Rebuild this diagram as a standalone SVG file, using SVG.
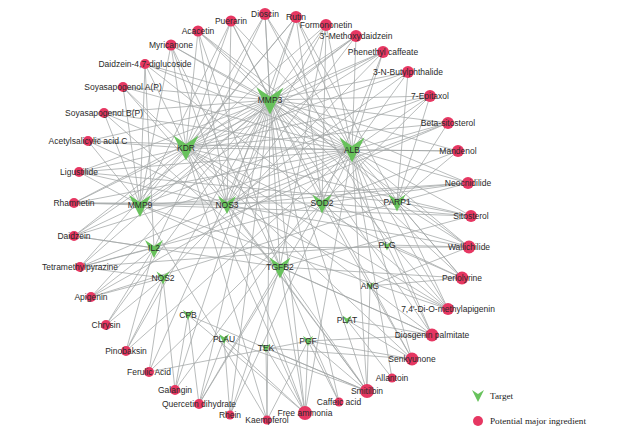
<svg xmlns="http://www.w3.org/2000/svg" xmlns:xlink="http://www.w3.org/1999/xlink" width="640" height="433" viewBox="0 0 640 433">
<style>
.e{stroke:#a2a6a6;stroke-width:0.75;fill:none}
.ing circle{fill:#e63762}
.tgt use{fill:#68c25c}
text{font-family:"Liberation Sans",Arial,sans-serif;font-size:8.5px;fill:#2a2a2a;text-anchor:middle}
.leg{font-family:"Liberation Serif","Times New Roman",serif;font-size:9.2px;text-anchor:start;fill:#222}
</style>
<defs>
<path id="vee" d="M-1,-1 L0,-0.33 L1,-1 L0,1 Z"/>
</defs>
<rect width="640" height="433" fill="#fff"/>
<g id="edges">
<line class="e" x1="198" y1="31" x2="270" y2="100"/><line class="e" x1="198" y1="31" x2="352" y2="150"/><line class="e" x1="198" y1="31" x2="186" y2="148"/><line class="e" x1="198" y1="31" x2="227" y2="205"/><line class="e" x1="198" y1="31" x2="280" y2="267"/><line class="e" x1="198" y1="31" x2="397" y2="202"/>
<line class="e" x1="231" y1="21" x2="270" y2="100"/><line class="e" x1="231" y1="21" x2="352" y2="150"/><line class="e" x1="231" y1="21" x2="186" y2="148"/><line class="e" x1="231" y1="21" x2="227" y2="205"/><line class="e" x1="231" y1="21" x2="322" y2="203"/><line class="e" x1="231" y1="21" x2="140" y2="205"/>
<line class="e" x1="265" y1="14" x2="270" y2="100"/><line class="e" x1="265" y1="14" x2="352" y2="150"/><line class="e" x1="265" y1="14" x2="186" y2="148"/><line class="e" x1="265" y1="14" x2="280" y2="267"/><line class="e" x1="265" y1="14" x2="387" y2="245"/><line class="e" x1="265" y1="14" x2="154" y2="248"/>
<line class="e" x1="296" y1="17" x2="270" y2="100"/><line class="e" x1="296" y1="17" x2="352" y2="150"/><line class="e" x1="296" y1="17" x2="186" y2="148"/><line class="e" x1="296" y1="17" x2="322" y2="203"/><line class="e" x1="296" y1="17" x2="227" y2="205"/><line class="e" x1="296" y1="17" x2="140" y2="205"/><line class="e" x1="296" y1="17" x2="397" y2="202"/>
<line class="e" x1="326" y1="25" x2="270" y2="100"/><line class="e" x1="326" y1="25" x2="352" y2="150"/><line class="e" x1="326" y1="25" x2="186" y2="148"/><line class="e" x1="326" y1="25" x2="227" y2="205"/><line class="e" x1="326" y1="25" x2="322" y2="203"/><line class="e" x1="326" y1="25" x2="280" y2="267"/>
<line class="e" x1="356" y1="36" x2="270" y2="100"/><line class="e" x1="356" y1="36" x2="352" y2="150"/><line class="e" x1="356" y1="36" x2="186" y2="148"/><line class="e" x1="356" y1="36" x2="227" y2="205"/><line class="e" x1="356" y1="36" x2="140" y2="205"/>
<line class="e" x1="383" y1="52" x2="270" y2="100"/><line class="e" x1="383" y1="52" x2="352" y2="150"/><line class="e" x1="383" y1="52" x2="186" y2="148"/><line class="e" x1="383" y1="52" x2="322" y2="203"/><line class="e" x1="383" y1="52" x2="140" y2="205"/><line class="e" x1="383" y1="52" x2="163" y2="278"/>
<line class="e" x1="408" y1="72" x2="270" y2="100"/><line class="e" x1="408" y1="72" x2="352" y2="150"/><line class="e" x1="408" y1="72" x2="397" y2="202"/><line class="e" x1="408" y1="72" x2="227" y2="205"/><line class="e" x1="408" y1="72" x2="186" y2="148"/>
<line class="e" x1="430" y1="96" x2="270" y2="100"/><line class="e" x1="430" y1="96" x2="352" y2="150"/><line class="e" x1="430" y1="96" x2="186" y2="148"/><line class="e" x1="430" y1="96" x2="397" y2="202"/><line class="e" x1="430" y1="96" x2="322" y2="203"/><line class="e" x1="430" y1="96" x2="140" y2="205"/>
<line class="e" x1="448" y1="123" x2="352" y2="150"/><line class="e" x1="448" y1="123" x2="270" y2="100"/><line class="e" x1="448" y1="123" x2="186" y2="148"/><line class="e" x1="448" y1="123" x2="397" y2="202"/><line class="e" x1="448" y1="123" x2="227" y2="205"/><line class="e" x1="448" y1="123" x2="154" y2="248"/>
<line class="e" x1="458" y1="151" x2="352" y2="150"/><line class="e" x1="458" y1="151" x2="270" y2="100"/><line class="e" x1="458" y1="151" x2="397" y2="202"/><line class="e" x1="458" y1="151" x2="322" y2="203"/><line class="e" x1="458" y1="151" x2="186" y2="148"/>
<line class="e" x1="468" y1="183" x2="352" y2="150"/><line class="e" x1="468" y1="183" x2="397" y2="202"/><line class="e" x1="468" y1="183" x2="270" y2="100"/><line class="e" x1="468" y1="183" x2="227" y2="205"/><line class="e" x1="468" y1="183" x2="140" y2="205"/><line class="e" x1="468" y1="183" x2="322" y2="203"/>
<line class="e" x1="471" y1="216" x2="397" y2="202"/><line class="e" x1="471" y1="216" x2="352" y2="150"/><line class="e" x1="471" y1="216" x2="186" y2="148"/><line class="e" x1="471" y1="216" x2="322" y2="203"/><line class="e" x1="471" y1="216" x2="140" y2="205"/><line class="e" x1="471" y1="216" x2="280" y2="267"/>
<line class="e" x1="469" y1="247" x2="397" y2="202"/><line class="e" x1="469" y1="247" x2="352" y2="150"/><line class="e" x1="469" y1="247" x2="270" y2="100"/><line class="e" x1="469" y1="247" x2="322" y2="203"/><line class="e" x1="469" y1="247" x2="227" y2="205"/><line class="e" x1="469" y1="247" x2="387" y2="245"/><line class="e" x1="469" y1="247" x2="154" y2="248"/><line class="e" x1="469" y1="247" x2="370" y2="286"/>
<line class="e" x1="462" y1="278" x2="397" y2="202"/><line class="e" x1="462" y1="278" x2="352" y2="150"/><line class="e" x1="462" y1="278" x2="186" y2="148"/><line class="e" x1="462" y1="278" x2="270" y2="100"/><line class="e" x1="462" y1="278" x2="387" y2="245"/><line class="e" x1="462" y1="278" x2="280" y2="267"/><line class="e" x1="462" y1="278" x2="370" y2="286"/>
<line class="e" x1="448" y1="309" x2="352" y2="150"/><line class="e" x1="448" y1="309" x2="270" y2="100"/><line class="e" x1="448" y1="309" x2="186" y2="148"/><line class="e" x1="448" y1="309" x2="322" y2="203"/><line class="e" x1="448" y1="309" x2="227" y2="205"/><line class="e" x1="448" y1="309" x2="397" y2="202"/><line class="e" x1="448" y1="309" x2="140" y2="205"/>
<line class="e" x1="432" y1="335" x2="352" y2="150"/><line class="e" x1="432" y1="335" x2="270" y2="100"/><line class="e" x1="432" y1="335" x2="186" y2="148"/><line class="e" x1="432" y1="335" x2="387" y2="245"/><line class="e" x1="432" y1="335" x2="280" y2="267"/><line class="e" x1="432" y1="335" x2="347" y2="320"/><line class="e" x1="432" y1="335" x2="308" y2="341"/><line class="e" x1="432" y1="335" x2="140" y2="205"/>
<line class="e" x1="412" y1="359" x2="352" y2="150"/><line class="e" x1="412" y1="359" x2="270" y2="100"/><line class="e" x1="412" y1="359" x2="186" y2="148"/><line class="e" x1="412" y1="359" x2="308" y2="341"/><line class="e" x1="412" y1="359" x2="266" y2="348"/><line class="e" x1="412" y1="359" x2="347" y2="320"/><line class="e" x1="412" y1="359" x2="322" y2="203"/>
<line class="e" x1="392" y1="378" x2="347" y2="320"/><line class="e" x1="392" y1="378" x2="352" y2="150"/>
<line class="e" x1="367" y1="391" x2="352" y2="150"/><line class="e" x1="367" y1="391" x2="270" y2="100"/><line class="e" x1="367" y1="391" x2="186" y2="148"/><line class="e" x1="367" y1="391" x2="280" y2="267"/><line class="e" x1="367" y1="391" x2="224" y2="339"/><line class="e" x1="367" y1="391" x2="266" y2="348"/><line class="e" x1="367" y1="391" x2="308" y2="341"/><line class="e" x1="367" y1="391" x2="188" y2="315"/><line class="e" x1="367" y1="391" x2="227" y2="205"/><line class="e" x1="367" y1="391" x2="370" y2="286"/>
<line class="e" x1="339" y1="402" x2="308" y2="341"/><line class="e" x1="339" y1="402" x2="270" y2="100"/><line class="e" x1="339" y1="402" x2="280" y2="267"/>
<line class="e" x1="305" y1="413" x2="308" y2="341"/><line class="e" x1="305" y1="413" x2="266" y2="348"/><line class="e" x1="305" y1="413" x2="224" y2="339"/><line class="e" x1="305" y1="413" x2="280" y2="267"/><line class="e" x1="305" y1="413" x2="188" y2="315"/><line class="e" x1="305" y1="413" x2="186" y2="148"/><line class="e" x1="305" y1="413" x2="270" y2="100"/><line class="e" x1="305" y1="413" x2="352" y2="150"/><line class="e" x1="305" y1="413" x2="227" y2="205"/>
<line class="e" x1="267" y1="420" x2="266" y2="348"/><line class="e" x1="267" y1="420" x2="308" y2="341"/><line class="e" x1="267" y1="420" x2="270" y2="100"/><line class="e" x1="267" y1="420" x2="186" y2="148"/><line class="e" x1="267" y1="420" x2="140" y2="205"/>
<line class="e" x1="230" y1="415" x2="224" y2="339"/><line class="e" x1="230" y1="415" x2="270" y2="100"/><line class="e" x1="230" y1="415" x2="352" y2="150"/><line class="e" x1="230" y1="415" x2="280" y2="267"/>
<line class="e" x1="199" y1="404" x2="188" y2="315"/><line class="e" x1="199" y1="404" x2="224" y2="339"/><line class="e" x1="199" y1="404" x2="270" y2="100"/><line class="e" x1="199" y1="404" x2="322" y2="203"/><line class="e" x1="199" y1="404" x2="280" y2="267"/>
<line class="e" x1="175" y1="390" x2="188" y2="315"/><line class="e" x1="175" y1="390" x2="163" y2="278"/><line class="e" x1="175" y1="390" x2="270" y2="100"/><line class="e" x1="175" y1="390" x2="352" y2="150"/>
<line class="e" x1="149" y1="372" x2="163" y2="278"/><line class="e" x1="149" y1="372" x2="270" y2="100"/><line class="e" x1="149" y1="372" x2="308" y2="341"/><line class="e" x1="149" y1="372" x2="322" y2="203"/>
<line class="e" x1="126" y1="351" x2="163" y2="278"/><line class="e" x1="126" y1="351" x2="154" y2="248"/><line class="e" x1="126" y1="351" x2="270" y2="100"/><line class="e" x1="126" y1="351" x2="352" y2="150"/>
<line class="e" x1="106" y1="325" x2="163" y2="278"/><line class="e" x1="106" y1="325" x2="154" y2="248"/><line class="e" x1="106" y1="325" x2="270" y2="100"/>
<line class="e" x1="91" y1="297" x2="163" y2="278"/><line class="e" x1="91" y1="297" x2="154" y2="248"/><line class="e" x1="91" y1="297" x2="270" y2="100"/><line class="e" x1="91" y1="297" x2="352" y2="150"/><line class="e" x1="91" y1="297" x2="397" y2="202"/>
<line class="e" x1="80" y1="267" x2="154" y2="248"/><line class="e" x1="80" y1="267" x2="163" y2="278"/><line class="e" x1="80" y1="267" x2="270" y2="100"/><line class="e" x1="80" y1="267" x2="352" y2="150"/><line class="e" x1="80" y1="267" x2="186" y2="148"/><line class="e" x1="80" y1="267" x2="322" y2="203"/><line class="e" x1="80" y1="267" x2="387" y2="245"/>
<line class="e" x1="74" y1="236" x2="154" y2="248"/><line class="e" x1="74" y1="236" x2="140" y2="205"/><line class="e" x1="74" y1="236" x2="270" y2="100"/><line class="e" x1="74" y1="236" x2="352" y2="150"/><line class="e" x1="74" y1="236" x2="186" y2="148"/><line class="e" x1="74" y1="236" x2="280" y2="267"/>
<line class="e" x1="74" y1="203" x2="140" y2="205"/><line class="e" x1="74" y1="203" x2="186" y2="148"/><line class="e" x1="74" y1="203" x2="227" y2="205"/><line class="e" x1="74" y1="203" x2="270" y2="100"/><line class="e" x1="74" y1="203" x2="352" y2="150"/><line class="e" x1="74" y1="203" x2="322" y2="203"/>
<line class="e" x1="79" y1="172" x2="140" y2="205"/><line class="e" x1="79" y1="172" x2="186" y2="148"/><line class="e" x1="79" y1="172" x2="270" y2="100"/><line class="e" x1="79" y1="172" x2="352" y2="150"/><line class="e" x1="79" y1="172" x2="227" y2="205"/><line class="e" x1="79" y1="172" x2="397" y2="202"/>
<line class="e" x1="88" y1="141" x2="186" y2="148"/><line class="e" x1="88" y1="141" x2="140" y2="205"/><line class="e" x1="88" y1="141" x2="270" y2="100"/><line class="e" x1="88" y1="141" x2="352" y2="150"/><line class="e" x1="88" y1="141" x2="227" y2="205"/>
<line class="e" x1="104" y1="113" x2="186" y2="148"/><line class="e" x1="104" y1="113" x2="270" y2="100"/><line class="e" x1="104" y1="113" x2="352" y2="150"/><line class="e" x1="104" y1="113" x2="140" y2="205"/><line class="e" x1="104" y1="113" x2="280" y2="267"/>
<line class="e" x1="123" y1="87" x2="186" y2="148"/><line class="e" x1="123" y1="87" x2="270" y2="100"/><line class="e" x1="123" y1="87" x2="352" y2="150"/><line class="e" x1="123" y1="87" x2="140" y2="205"/><line class="e" x1="123" y1="87" x2="227" y2="205"/>
<line class="e" x1="145" y1="64" x2="186" y2="148"/><line class="e" x1="145" y1="64" x2="270" y2="100"/><line class="e" x1="145" y1="64" x2="352" y2="150"/><line class="e" x1="145" y1="64" x2="140" y2="205"/><line class="e" x1="145" y1="64" x2="154" y2="248"/><line class="e" x1="145" y1="64" x2="322" y2="203"/>
<line class="e" x1="171" y1="45" x2="186" y2="148"/><line class="e" x1="171" y1="45" x2="270" y2="100"/><line class="e" x1="171" y1="45" x2="352" y2="150"/><line class="e" x1="171" y1="45" x2="227" y2="205"/><line class="e" x1="171" y1="45" x2="280" y2="267"/><line class="e" x1="171" y1="45" x2="140" y2="205"/>
</g>
<g id="targets" class="tgt">
<g id="t-MMP3"><use xlink:href="#vee" href="#vee" transform="translate(270,101) scale(13.5)"/><text x="270" y="103">MMP3</text></g>
<g id="t-ALB"><use xlink:href="#vee" href="#vee" transform="translate(352,150) scale(12.5)"/><text x="352" y="153">ALB</text></g>
<g id="t-KDR"><use xlink:href="#vee" href="#vee" transform="translate(186,148) scale(12.5)"/><text x="186" y="151">KDR</text></g>
<g id="t-MMP9"><use xlink:href="#vee" href="#vee" transform="translate(140,206) scale(11)"/><text x="140" y="208">MMP9</text></g>
<g id="t-NOS3"><use xlink:href="#vee" href="#vee" transform="translate(227,205) scale(9)"/><text x="227" y="208">NOS3</text></g>
<g id="t-SOD2"><use xlink:href="#vee" href="#vee" transform="translate(322,204) scale(9.5)"/><text x="322" y="206">SOD2</text></g>
<g id="t-PARP1"><use xlink:href="#vee" href="#vee" transform="translate(397,203) scale(8.5)"/><text x="397" y="205">PARP1</text></g>
<g id="t-IL2"><use xlink:href="#vee" href="#vee" transform="translate(154,249) scale(9)"/><text x="154" y="251">IL2</text></g>
<g id="t-NOS2"><use xlink:href="#vee" href="#vee" transform="translate(163,278) scale(6.5)"/><text x="163" y="281">NOS2</text></g>
<g id="t-TGFB2"><use xlink:href="#vee" href="#vee" transform="translate(280,268) scale(10.5)"/><text x="280" y="270">TGFB2</text></g>
<g id="t-PLG"><use xlink:href="#vee" href="#vee" transform="translate(387,246) scale(4.5)"/><text x="387" y="248">PLG</text></g>
<g id="t-ANG"><use xlink:href="#vee" href="#vee" transform="translate(370,286) scale(4)"/><text x="370" y="289">ANG</text></g>
<g id="t-PLAT"><use xlink:href="#vee" href="#vee" transform="translate(347,320) scale(4.5)"/><text x="347" y="323">PLAT</text></g>
<g id="t-CPB"><use xlink:href="#vee" href="#vee" transform="translate(188,315) scale(5)"/><text x="188" y="318">CPB</text></g>
<g id="t-PLAU"><use xlink:href="#vee" href="#vee" transform="translate(224,339) scale(5)"/><text x="224" y="342">PLAU</text></g>
<g id="t-TEK"><use xlink:href="#vee" href="#vee" transform="translate(266,348) scale(4.5)"/><text x="266" y="351">TEK</text></g>
<g id="t-PGF"><use xlink:href="#vee" href="#vee" transform="translate(308,341) scale(5)"/><text x="308" y="344">PGF</text></g>
</g>
<g id="ingredients" class="ing">
<g id="i-acacetin"><circle cx="198" cy="31" r="5.5"/><text x="198" y="34">Acacetin</text></g>
<g id="i-puerarin"><circle cx="231" cy="21" r="5.5"/><text x="231" y="24">Puerarin</text></g>
<g id="i-dioscin"><circle cx="265" cy="14" r="6"/><text x="265" y="17">Dioscin</text></g>
<g id="i-rutin"><circle cx="296" cy="17" r="6"/><text x="296" y="20">Rutin</text></g>
<g id="i-formononetin"><circle cx="326" cy="25" r="6"/><text x="326" y="28">Formononetin</text></g>
<g id="i-methoxydaidzein"><circle cx="356" cy="36" r="6"/><text x="356" y="39">3'-Methoxydaidzein</text></g>
<g id="i-phenethyl"><circle cx="383" cy="52" r="6"/><text x="383" y="55">Phenethyl caffeate</text></g>
<g id="i-butylphthalide"><circle cx="408" cy="72" r="6"/><text x="408" y="75">3-N-Butylphthalide</text></g>
<g id="i-epitaxol"><circle cx="430" cy="96" r="6"/><text x="430" y="99">7-Epitaxol</text></g>
<g id="i-betasitosterol"><circle cx="448" cy="123" r="6"/><text x="448" y="126">Beta-sitosterol</text></g>
<g id="i-mandenol"><circle cx="458" cy="151" r="6"/><text x="458" y="154">Mandenol</text></g>
<g id="i-neocnidilide"><circle cx="468" cy="183" r="6"/><text x="468" y="186">Neocnidilide</text></g>
<g id="i-sitosterol"><circle cx="471" cy="216" r="6"/><text x="471" y="219">Sitosterol</text></g>
<g id="i-wallichilide"><circle cx="469" cy="247" r="6.5"/><text x="469" y="250">Wallichilide</text></g>
<g id="i-perlolyrine"><circle cx="462" cy="278" r="6.5"/><text x="462" y="281">Perlolyrine</text></g>
<g id="i-dimethylapigenin"><circle cx="448" cy="309" r="6"/><text x="448" y="312">7,4'-Di-O-methylapigenin</text></g>
<g id="i-diosgenin"><circle cx="432" cy="335" r="6.5"/><text x="432" y="338">Diosgenin palmitate</text></g>
<g id="i-senkyunone"><circle cx="412" cy="359" r="6.5"/><text x="412" y="362">Senkyunone</text></g>
<g id="i-allantoin"><circle cx="392" cy="378" r="4.5"/><text x="392" y="381">Allantoin</text></g>
<g id="i-smitilbin"><circle cx="367" cy="391" r="7"/><text x="367" y="394">Smitilbin</text></g>
<g id="i-caffeic"><circle cx="339" cy="402" r="4.5"/><text x="339" y="405">Caffeic acid</text></g>
<g id="i-ammonia"><circle cx="305" cy="413" r="7"/><text x="305" y="416">Free ammonia</text></g>
<g id="i-kaempferol"><circle cx="267" cy="420" r="4.5"/><text x="267" y="423">Kaempferol</text></g>
<g id="i-rhein"><circle cx="230" cy="415" r="4.5"/><text x="230" y="418">Rhein</text></g>
<g id="i-quercetin"><circle cx="199" cy="404" r="5"/><text x="199" y="407">Quercetin dihydrate</text></g>
<g id="i-galangin"><circle cx="175" cy="390" r="5"/><text x="175" y="393">Galangin</text></g>
<g id="i-ferulic"><circle cx="149" cy="372" r="5"/><text x="149" y="375">Ferulic Acid</text></g>
<g id="i-pinobaksin"><circle cx="126" cy="351" r="5"/><text x="126" y="354">Pinobaksin</text></g>
<g id="i-chrysin"><circle cx="106" cy="325" r="5"/><text x="106" y="328">Chrysin</text></g>
<g id="i-apigenin"><circle cx="91" cy="297" r="5"/><text x="91" y="300">Apigenin</text></g>
<g id="i-tetramethylpyrazine"><circle cx="80" cy="267" r="5"/><text x="80" y="270">Tetramethylpyrazine</text></g>
<g id="i-daidzein"><circle cx="74" cy="236" r="5"/><text x="74" y="239">Daidzein</text></g>
<g id="i-rhamnetin"><circle cx="74" cy="203" r="5"/><text x="74" y="206">Rhamnetin</text></g>
<g id="i-ligustilide"><circle cx="79" cy="172" r="5"/><text x="79" y="175">Ligustilide</text></g>
<g id="i-acetylsalicylic"><circle cx="88" cy="141" r="5"/><text x="88" y="144">Acetylsalicylic acid C</text></g>
<g id="i-soyb"><circle cx="104" cy="113" r="5"/><text x="104" y="116">Soyasapogenol B(P)</text></g>
<g id="i-soya"><circle cx="123" cy="87" r="5"/><text x="123" y="90">Soyasapogenol A(P)</text></g>
<g id="i-daidzeindiglucoside"><circle cx="145" cy="64" r="5"/><text x="145" y="67">Daidzein-4,7-diglucoside</text></g>
<g id="i-myricanone"><circle cx="171" cy="45" r="5.5"/><text x="171" y="48">Myricanone</text></g>
</g>
<g id="legend">
<use xlink:href="#vee" href="#vee" transform="translate(478,396) scale(6)" fill="#68c25c"/>
<text class="leg" x="490" y="399">Target</text>
<circle cx="478" cy="421" r="5" fill="#e63762"/>
<text class="leg" x="490" y="424">Potential major ingredient</text>
</g>
</svg>
